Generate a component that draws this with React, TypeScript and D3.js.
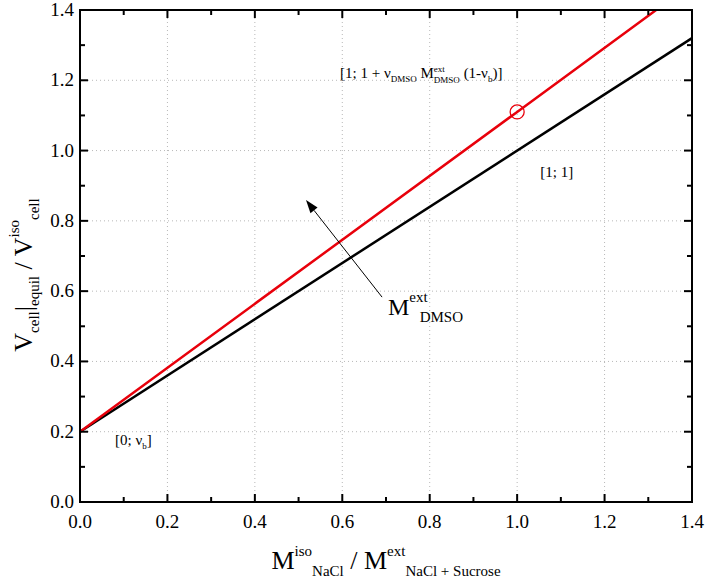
import React from "react";
import * as d3 from "d3";

const xTicks = [0, 0.2, 0.4, 0.6, 0.8, 1.0, 1.2, 1.4];
const yTicks = [0, 0.2, 0.4, 0.6, 0.8, 1.0, 1.2, 1.4];
const minorTicks = [0.1, 0.3, 0.5, 0.7, 0.9, 1.1, 1.3];

const blackX = [0, 1.4];
const blackY = [0.2, 1.32];
const redX = [0, 1.0, 1.318];
const redY = [0.2, 1.11, 1.4];
const markerX = [1.0];
const markerY = [1.11];

const arrowFrom = [0.691, 0.583];
const arrowTo = [0.517, 0.859];

const W = 706, H = 583;
const L = 80, R = 692, T = 10, B = 502;
const FONT = "'Liberation Serif', 'Times New Roman', Times, serif";
const ts = { fontFamily: FONT };

export default function App() {
  const x = d3.scaleLinear().domain([0, 1.4]).range([L, R]);
  const y = d3.scaleLinear().domain([0, 1.4]).range([B, T]);
  const line = d3.line<[number, number]>().x(d => x(d[0])).y(d => y(d[1]));
  const blackPts = blackX.map((v, i) => [v, blackY[i]] as [number, number]);
  const redPts = redX.map((v, i) => [v, redY[i]] as [number, number]);
  const fmt = d3.format(".1f");

  const ax = x(arrowFrom[0]), ay = y(arrowFrom[1]);
  const bx = x(arrowTo[0]), by = y(arrowTo[1]);
  const ang = Math.atan2(by - ay, bx - ax);
  const hl = 13, hw = 4.5;
  const hx = bx - hl * Math.cos(ang), hy = by - hl * Math.sin(ang);
  const head = `M${bx},${by} L${hx + hw * Math.sin(ang)},${hy - hw * Math.cos(ang)} L${hx - hw * Math.sin(ang)},${hy + hw * Math.cos(ang)} Z`;

  const grid = "#b8b8b8";
  return (
    <svg width={W} height={H} style={{ position: "absolute", left: 0, top: 0, background: "#fff", fontFamily: FONT }}>
      <rect x={0} y={0} width={W} height={H} fill="#fff" />
      {xTicks.slice(1, -1).map(t => (
        <line key={"gx" + t} x1={x(t)} x2={x(t)} y1={T} y2={B} stroke={grid} strokeWidth={1} strokeDasharray="1,3" />
      ))}
      {yTicks.slice(1, -1).map(t => (
        <line key={"gy" + t} y1={y(t)} y2={y(t)} x1={L} x2={R} stroke={grid} strokeWidth={1} strokeDasharray="1,3" />
      ))}
      <path d={line(blackPts) || ""} fill="none" stroke="#000" strokeWidth={2.5} />
      <path d={line(redPts) || ""} fill="none" stroke="#e8000b" strokeWidth={2.5} />
      {markerX.map((v, i) => (
        <circle key={"m" + i} cx={x(v)} cy={y(markerY[i])} r={7} fill="none" stroke="#e8000b" strokeWidth={1.3} />
      ))}
      <line x1={ax} y1={ay} x2={hx} y2={hy} stroke="#000" strokeWidth={1} />
      <path d={head} fill="#000" />
      <rect x={L} y={T} width={R - L} height={B - T} fill="none" stroke="#000" strokeWidth={2} />
      {xTicks.map(t => (
        <g key={"xt" + t}>
          <line x1={x(t)} x2={x(t)} y1={B} y2={B - 8} stroke="#000" strokeWidth={2} />
          <line x1={x(t)} x2={x(t)} y1={T} y2={T + 8} stroke="#000" strokeWidth={2} />
          <text style={ts} x={x(t)} y={B + 26} textAnchor="middle" fontSize={19}>{fmt(t)}</text>
        </g>
      ))}
      {minorTicks.map(t => (
        <g key={"mt" + t}>
          <line x1={x(t)} x2={x(t)} y1={B} y2={B - 5} stroke="#000" strokeWidth={2} />
          <line x1={x(t)} x2={x(t)} y1={T} y2={T + 5} stroke="#000" strokeWidth={2} />
          <line x1={L} x2={L + 5} y1={y(t)} y2={y(t)} stroke="#000" strokeWidth={2} />
          <line x1={R} x2={R - 5} y1={y(t)} y2={y(t)} stroke="#000" strokeWidth={2} />
        </g>
      ))}
      {yTicks.map(t => (
        <g key={"yt" + t}>
          <line x1={L} x2={L + 8} y1={y(t)} y2={y(t)} stroke="#000" strokeWidth={2} />
          <line x1={R} x2={R - 8} y1={y(t)} y2={y(t)} stroke="#000" strokeWidth={2} />
          <text style={ts} x={L - 6} y={y(t) + 6} textAnchor="end" fontSize={19}>{fmt(t)}</text>
        </g>
      ))}
      <text style={ts} x={x(0.595)} y={y(1.207)} fontSize={15}>
        <tspan>[1; 1 + ν</tspan>
        <tspan fontSize={9} dy={4}>DMSO</tspan>
        <tspan dy={-4}> M</tspan>
        <tspan fontSize={9} dy={-6}>ext</tspan>
        <tspan fontSize={9} dy={11} dx={-11}>DMSO</tspan>
        <tspan dy={-5}> (1-ν</tspan>
        <tspan fontSize={9} dy={4}>b</tspan>
        <tspan dy={-4}>)]</tspan>
      </text>
      <text style={ts} x={x(1.053)} y={y(0.925)} fontSize={15}>[1; 1]</text>
      <text style={ts} x={x(0.08)} y={y(0.162)} fontSize={15}>
        <tspan>[0; ν</tspan>
        <tspan fontSize={9} dy={4}>b</tspan>
        <tspan dy={-4}>]</tspan>
      </text>
      <text style={ts} x={388} y={315} fontSize={24}>
        <tspan>M</tspan>
        <tspan fontSize={15} dy={-13}>ext</tspan>
        <tspan fontSize={15} dy={20} dx={-8}>DMSO</tspan>
      </text>
      <text style={ts} x={(L + R) / 2} y={569} textAnchor="middle" fontSize={26}>
        <tspan>M</tspan>
        <tspan fontSize={15} dy={-13}>iso</tspan>
        <tspan fontSize={15} dy={20}>NaCl</tspan>
        <tspan dy={-7}> / M</tspan>
        <tspan fontSize={15} dy={-13}>ext</tspan>
        <tspan fontSize={15} dy={20}>NaCl + Sucrose</tspan>
      </text>
      <text style={ts} transform={`translate(32, 275) rotate(-90)`} textAnchor="middle" fontSize={26}>
        <tspan>V</tspan>
        <tspan fontSize={15} dy={7}>cell</tspan>
        <tspan dy={-7}>|</tspan>
        <tspan fontSize={15} dy={7}>equil</tspan>
        <tspan dy={-7}> / V</tspan>
        <tspan fontSize={15} dy={-13}>iso</tspan>
        <tspan fontSize={15} dy={20}>cell</tspan>
      </text>
    </svg>
  );
}
